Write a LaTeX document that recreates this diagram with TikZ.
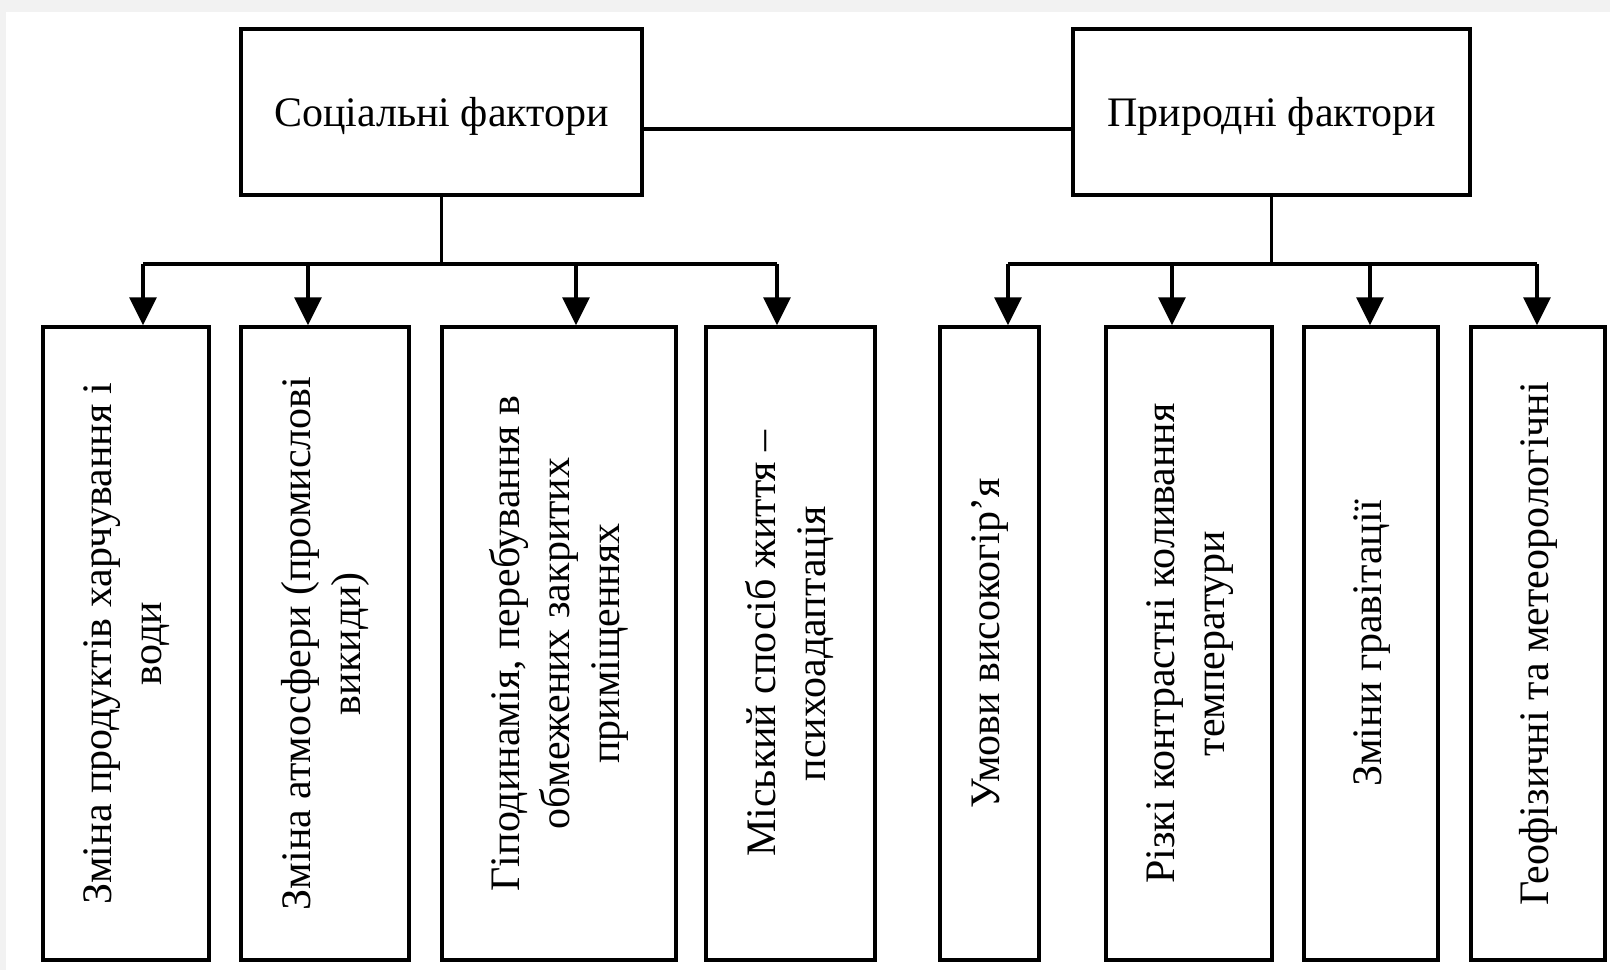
\documentclass[tikz,border=0pt]{standalone}
\usepackage{fontspec}
\setmainfont{Liberation Serif}
\usepackage{graphicx}
\usetikzlibrary{arrows.meta}

\newcommand{\vtext}[1]{\rotatebox{90}{\fontsize{42}{50}\selectfont\begin{tabular}{@{}c@{}}#1\end{tabular}}}

\tikzset{
  topbox/.style={draw, line width=3.5pt, minimum height=166pt, inner sep=0pt, text depth=0pt, font=\fontsize{42}{50}\selectfont},
  subbox/.style={draw, line width=3.5pt, minimum height=633pt, inner sep=0pt},
  link/.style={line width=3.3pt},
  arr/.style={line width=3.3pt, -{Triangle[width=27pt,length=28pt]}}
}

\begin{document}
\begin{tikzpicture}[x=1pt,y=-1pt]

% background

\fill[black!5] (0,0) rectangle (1610,970);
\fill[white] (6,12) rectangle (1610,970);
\useasboundingbox (0,0) rectangle (1610,970);

% main boxes

\node[topbox, minimum width=401pt] (soc) at (441.5,112) {Соціальні фактори};
\node[topbox, minimum width=397pt] (nat) at (1271.5,112) {Природні фактори};

\draw[link] ([yshift=-17pt]soc.east) -- ([yshift=-17pt]nat.west);

% social factors

\node[subbox, minimum width=166pt] (soc1) at (126,643.5) {\vtext{Зміна продуктів харчування і\\води}};
\node[subbox, minimum width=168pt] (soc2) at (325,643.5) {\vtext{Зміна атмосфери (промислові\\викиди)}};
\node[subbox, minimum width=234pt] (soc3) at (559,643.5) {\vtext{Гіподинамія, перебування в\\обмежених закритих\\приміщеннях}};
\node[subbox, minimum width=169pt] (soc4) at (790.5,643.5) {\vtext{Міський спосіб життя –\\психоадаптація}};

\coordinate (sa1) at (143,264);
\coordinate (sa2) at (308,264);
\coordinate (sa3) at (576,264);
\coordinate (sa4) at (777,264);

\draw[link] (soc.south) -- (soc.south |- sa1);
\draw[link] (sa1) -- (sa4);
\draw[arr] (sa1) -- (sa1 |- soc1.north);
\draw[arr] (sa2) -- (sa2 |- soc2.north);
\draw[arr] (sa3) -- (sa3 |- soc3.north);
\draw[arr] (sa4) -- (sa4 |- soc4.north);

% natural factors

\node[subbox, minimum width=99pt] (nat1) at (989.5,643.5) {\vtext{Умови високогір’я}};
\node[subbox, minimum width=166pt] (nat2) at (1189,643.5) {\vtext{Різкі контрастні коливання\\температури}};
\node[subbox, minimum width=134pt] (nat3) at (1371,643.5) {\vtext{Зміни гравітації}};
\node[subbox, minimum width=134pt] (nat4) at (1538,643.5) {\vtext{Геофізичні та метеорологічні}};

\coordinate (na1) at (1008,264);
\coordinate (na2) at (1172,264);
\coordinate (na3) at (1370,264);
\coordinate (na4) at (1537,264);

\draw[link] (nat.south) -- (nat.south |- na1);
\draw[link] (na1) -- (na4);
\draw[arr] (na1) -- (na1 |- nat1.north);
\draw[arr] (na2) -- (na2 |- nat2.north);
\draw[arr] (na3) -- (na3 |- nat3.north);
\draw[arr] (na4) -- (na4 |- nat4.north);

\end{tikzpicture}
\end{document}
